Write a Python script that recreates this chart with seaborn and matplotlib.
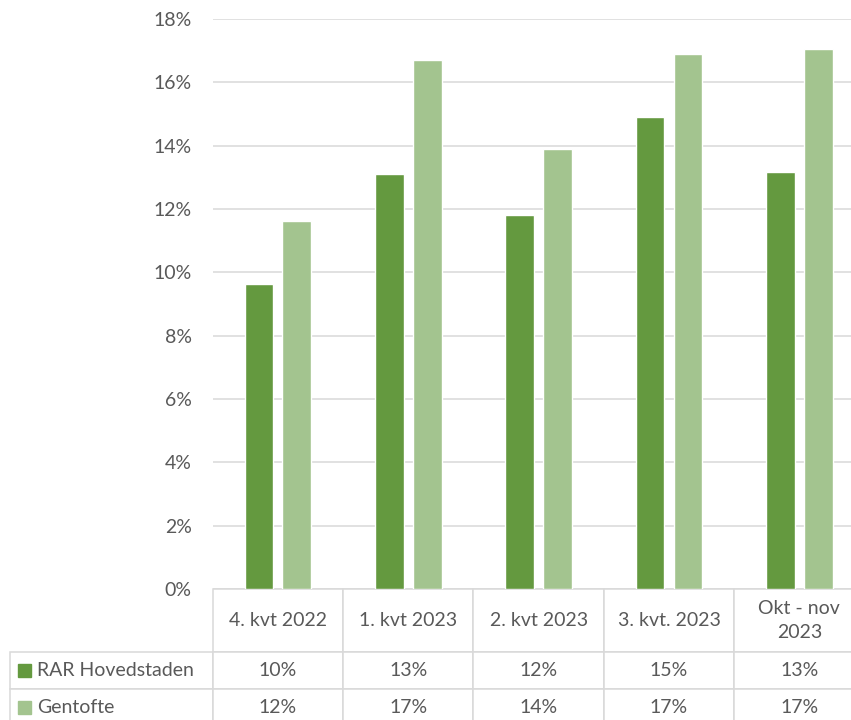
import numpy as np
import pandas as pd
import matplotlib.pyplot as plt
import seaborn as sns
from matplotlib.table import Table
from matplotlib.patches import Rectangle

# data
kategorier = ['4. kvt 2022', '1. kvt 2023', '2. kvt 2023', '3. kvt. 2023', 'Okt - nov\n2023']
serier = ['RAR Hovedstaden', 'Gentofte']
rar = [0.0962, 0.1310, 0.1182, 0.1490, 0.1316]
gentofte = [0.1161, 0.1670, 0.1389, 0.1689, 0.1704]
farver = ['#64993F', '#A3C48F']
yticks = np.arange(0, 0.181, 0.02)

df = pd.DataFrame({
    'Periode': kategorier * 2,
    'Serie': [serier[0]] * len(rar) + [serier[1]] * len(gentofte),
    'Andel': rar + gentofte,
})

sns.set_theme(style='white')
plt.rcParams['font.family'] = ['Lato', 'DejaVu Sans']
graa = '#595959'
linje = '#D9D9D9'

# layout i pixels
W, H = 851, 720
ax_l, ax_r, ax_top, ax_bot = 212.7, 864.6, 19, 589
aw, ah = ax_r - ax_l, ax_bot - ax_top

fig = plt.figure(figsize=(W / 100, H / 100), dpi=100)
ax = fig.add_axes([ax_l / W, 1 - ax_bot / H, aw / W, ah / H])

sns.barplot(data=df, x='Periode', y='Andel', hue='Serie', palette=farver,
            width=0.58, gap=0.24, saturation=1, legend=False, ax=ax)

ax.set_yticks(yticks)
ax.set_yticklabels([f'{v * 100:.0f}%' for v in yticks])
ax.yaxis.grid(True, color=linje, lw=1.1)
ax.set_axisbelow(True)
ax.tick_params(axis='y', length=0, pad=15, labelsize=14, labelcolor=graa)
ax.set_xticks([])
ax.set_xlabel('')
ax.set_ylabel('')
for s in ax.spines.values():
    s.set_visible(False)

# datatabel under grafen
kol0, kol = ax_l - 10, aw / len(kategorier)
rh = [63, 37, 37]
rows = [[''] + kategorier,
        [serier[0]] + [f'{v * 100:.0f}%' for v in rar],
        [serier[1]] + [f'{v * 100:.0f}%' for v in gentofte]]

tab = Table(ax, bbox=[(10 - ax_l) / aw, -sum(rh) / ah, (ax_r - 10) / aw, sum(rh) / ah])
for r, row in enumerate(rows):
    for c, txt in enumerate(row):
        cell = tab.add_cell(r, c, width=kol0 if c == 0 else kol, height=rh[r], text=txt,
                            loc='left' if c == 0 else 'center',
                            facecolor='white', edgecolor=linje)
        cell.set_linewidth(1.1)
        cell.get_text().set_color(graa)
        cell.get_text().set_linespacing(1.45)
        if c == 0:
            cell.PAD = 27 / kol0
tab[(0, 0)].visible_edges = ''
tab[(0, 0)].set_facecolor('none')
tab.auto_set_font_size(False)
tab.set_fontsize(14)
ax.add_table(tab)

# farvefelter til serierne
for i, farve in enumerate(farver):
    yc = ax_bot + rh[0] + rh[1] * i + rh[1] / 2
    ax.add_patch(Rectangle(((18 - ax_l) / aw, (ax_bot - yc - 6.5) / ah), 13 / aw, 13 / ah,
                           transform=ax.transAxes, color=farve, clip_on=False, zorder=5))

ax.set_xlim(-0.5, len(kategorier) - 0.5)
ax.set_ylim(0, 0.18)

fig.savefig('out.png', dpi=100)
